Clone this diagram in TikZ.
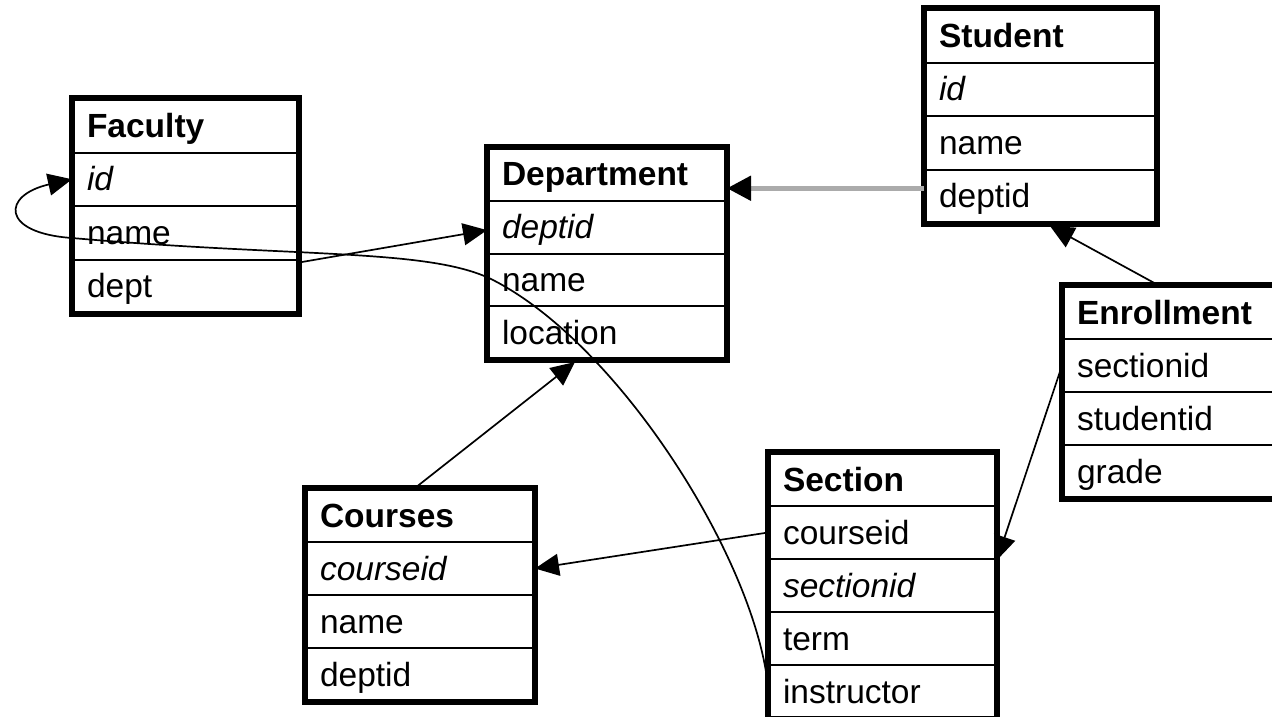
\documentclass[tikz,border=0pt]{standalone}
\usepackage{fontspec}
\setmainfont{Liberation Sans}
\usetikzlibrary{arrows.meta,calc}
\tikzset{
  rowbox/.style={draw, line width=2pt, anchor=north west, inner xsep=14pt, inner ysep=0pt,
    align=left, text height=27pt, text depth=4pt, font=\fontsize{33.5}{38}\selectfont},
  outerbox/.style={line width=5.5pt},
  link/.style={line width=1.7pt, -{Triangle[length=24pt,width=22pt]}},
  graylink/.style={line width=5pt, draw=black!33, -{Triangle[length=24pt,width=24pt,color=black]}},
}
% \entitybox{name}{x}{ytop}{width}{rowheight}{last index}{rows}
\newcommand{\entitybox}[7]{%
  \foreach \t [count=\i from 0] in {#7}{%
    \node[rowbox, minimum width=#4pt, minimum height=#5pt, text width={(#4-28)*1pt}]
      (#1-\i) at (#2,{#3+\i*#5}) {\t};
  }
  \draw[outerbox] (#1-0.north west) rectangle (#1-#6.south east);
}
\begin{document}
\begin{tikzpicture}[x=1pt,y=-1pt]
\useasboundingbox (0,0) rectangle (1272,716);
\fill[white] (0,0) rectangle (1272,716);

\entitybox{fac}{72}{98}{225}{53.5}{3}{\textbf{Faculty},\textit{id},name,dept}
\entitybox{dep}{487}{147}{238}{52.75}{3}{\textbf{Department},\textit{deptid},name,location}
\entitybox{stu}{924}{8}{231}{53.5}{3}{\textbf{Student},\textit{id},name,deptid}
\entitybox{enr}{1062}{285}{225}{53}{3}{\textbf{Enrollment},sectionid,studentid,grade}
\entitybox{cou}{305}{488}{228}{53}{3}{\textbf{Courses},\textit{courseid},name,deptid}
\entitybox{sec}{768}{452}{227}{53}{4}{\textbf{Section},courseid,\textit{sectionid},term,instructor}

% Faculty.dept -> Department.deptid
\draw[link] ([yshift=-4pt]fac-3.north east) -- ([yshift=-3pt]dep-1.west);
% Section.instructor -> Faculty.id (long curve with loop)
\draw[link] ([yshift=5pt]sec-4.west)
  .. controls (755,560) and (620,345) .. (493,280)
  .. controls (430,248) and (300,258) .. (72,238)
  .. controls (0,233) and (2,195) .. (fac-1.west);
% Student.deptid -> Department (gray)
\coordinate (sd) at ([yshift=8pt]stu-3.west);
\draw[graylink] (sd) -- (sd -| dep-0.east);
% Enrollment -> Student
\draw[link] ([xshift=96pt]enr-0.north west) -- ([xshift=126pt,yshift=-2pt]stu-3.south west);
% Enrollment.sectionid -> Section
\draw[link] (enr-1.west) -- (sec-1.south east);
% Section.courseid -> Courses.courseid
\draw[link] (sec-1.west) -- (cou-1.east);
% Courses -> Department
\draw[link] ([xshift=110pt]cou-0.north west) -- ([xshift=88pt,yshift=-2pt]dep-3.south west);
\end{tikzpicture}
\end{document}
